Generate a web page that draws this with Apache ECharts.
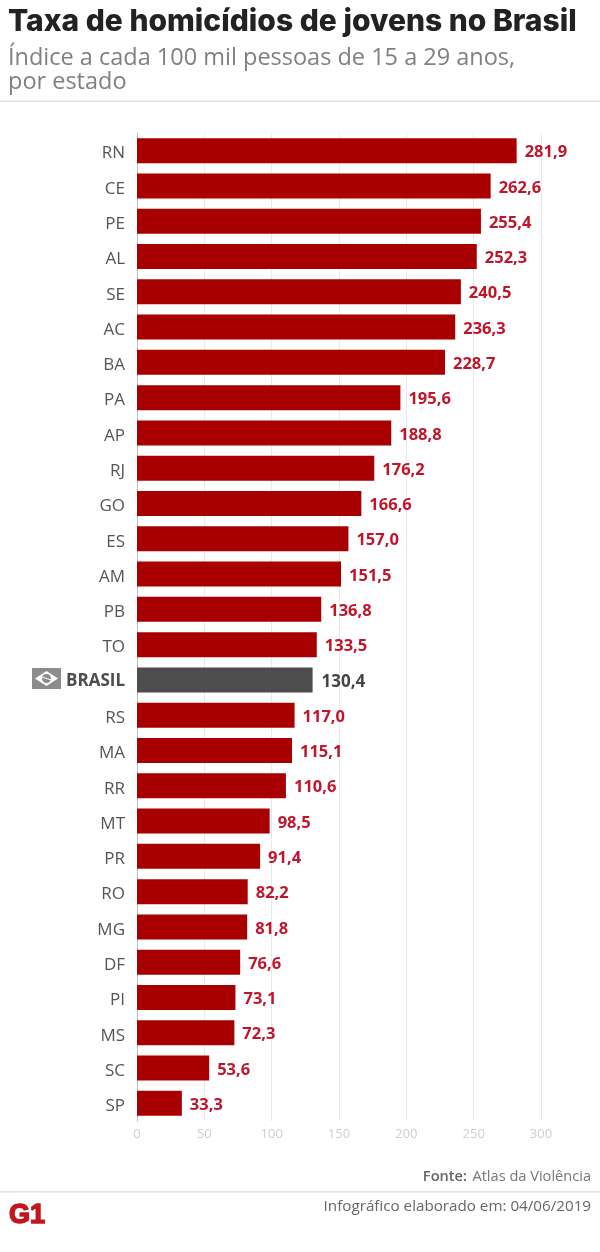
<!DOCTYPE html>
<html lang="pt-BR">
<head>
    <meta charset="UTF-8">
    <title>Taxa de homicídios de jovens no Brasil</title>
    <style>
        *{
            padding: 0;
            margin: 0;
        }
        html, body{
            background: #fff;
        }
        .EC{
            width: 600px;
            height: 1252px;
        }
    </style>
</head>
<body>
<div class="EC"></div>
<script src="https://cdn.jsdelivr.net/npm/echarts@6/dist/echarts.min.js"></script>
<script>
    const estados = ['RN', 'CE', 'PE', 'AL', 'SE', 'AC', 'BA', 'PA', 'AP', 'RJ', 'GO', 'ES', 'AM', 'PB', 'TO', 'BRASIL',
        'RS', 'MA', 'RR', 'MT', 'PR', 'RO', 'MG', 'DF', 'PI', 'MS', 'SC', 'SP']
    const taxas = [281.9, 262.6, 255.4, 252.3, 240.5, 236.3, 228.7, 195.6, 188.8, 176.2, 166.6, 157.0, 151.5, 136.8, 133.5, 130.4,
        117.0, 115.1, 110.6, 98.5, 91.4, 82.2, 81.8, 76.6, 73.1, 72.3, 53.6, 33.3]
    const destaque = 'BRASIL'

    const fonte = '"Open Sans", sans-serif'
    const vermelho = '#a80000'
    const cinza = '#4d4d4d'

    const texto = (text, x, y, size, weight, fill, align, family) => ({
        type: 'text',
        style: { text, x, y, fontSize: size, fontWeight: weight, fill, align: align || 'left', verticalAlign: 'middle', fontFamily: family || fonte }
    })
    const linha = y => ({
        type: 'rect',
        shape: { x: 0, y: y, width: 600, height: 1.5 },
        style: { fill: '#e3e3e3' }
    })

    let EC = echarts.init(document.querySelector('.EC'), null, { renderer: 'canvas' })
    EC.setOption({
        animation: false,
        backgroundColor: '#fff',
        grid: { left: 137, right: 59, top: 133, bottom: 131 },
        xAxis: {
            type: 'value',
            min: 0,
            max: 300,
            interval: 50,
            axisLine: { show: false },
            axisTick: { show: false },
            axisLabel: { color: '#cfcfcf', fontSize: 13, fontFamily: fonte, margin: 7 },
            splitLine: { lineStyle: { color: '#e9e9e9', width: 1 } }
        },
        yAxis: {
            type: 'category',
            inverse: true,
            data: estados,
            axisLine: { lineStyle: { color: '#bdbdbd', width: 1 } },
            axisTick: { show: false },
            axisLabel: {
                margin: 12,
                formatter: v => v === destaque ? '{b|' + v + '}' : '{n|' + v + '}',
                rich: {
                    n: { fontFamily: fonte, fontSize: 17, color: '#555', padding: [6, 0, 0, 0] },
                    b: { fontFamily: fonte, fontSize: 17, fontWeight: 700, color: cinza, padding: [2, 0, 0, 0] }
                }
            }
        },
        series: [{
            type: 'bar',
            barWidth: 25,
            data: taxas.map((v, i) => estados[i] === destaque ? {
                value: v,
                itemStyle: { color: cinza },
                label: { color: '#444', fontSize: 17, distance: 9 }
            } : v),
            itemStyle: { color: vermelho },
            label: {
                show: true,
                position: 'right',
                distance: 8,
                offset: [0, 2],
                fontFamily: fonte,
                fontSize: 16.5,
                fontWeight: 700,
                color: '#c0152b',
                formatter: p => p.value.toFixed(1).replace('.', ',')
            }
        }],
        graphic: [
            texto('Taxa de homicídios de jovens no Brasil', 8, 22, 30, 800, '#222', 'left', 'Inter, sans-serif'),
            texto('Índice a cada 100 mil pessoas de 15 a 29 anos,', 8, 58, 23.5, 400, '#808080'),
            texto('por estado', 8, 82, 23.5, 400, '#808080'),
            linha(100.5),
            // bandeira ao lado de BRASIL
            { type: 'rect', shape: { x: 32, y: 668, width: 29, height: 21 }, style: { fill: '#8c8c8c' } },
            { type: 'polygon', shape: { points: [[35, 678.5], [46.5, 671], [58, 678.5], [46.5, 686]] }, style: { fill: '#fff' } },
            { type: 'circle', shape: { cx: 46.5, cy: 678.5, r: 4.5 }, style: { fill: '#8c8c8c' } },
            { type: 'line', shape: { x1: 42, y1: 677, x2: 51, y2: 680 }, style: { stroke: '#fff', lineWidth: 1 } },
            texto('Fonte:', 467, 1177, 14.6, 600, '#666', 'right'),
            texto('Atlas da Violência', 591, 1177, 14.6, 400, '#777', 'right'),
            linha(1191),
            texto('Infográfico elaborado em: 04/06/2019', 591, 1207, 15.2, 400, '#666', 'right'),
            {
                type: 'text',
                style: { text: 'G1', x: 9, y: 1216, fontSize: 27, fontWeight: 900, fill: '#c4161c', stroke: '#c4161c', lineWidth: 1.5, verticalAlign: 'middle', fontFamily: '"Liberation Sans", sans-serif' }
            }
        ]
    })
</script>
</body>
</html>
